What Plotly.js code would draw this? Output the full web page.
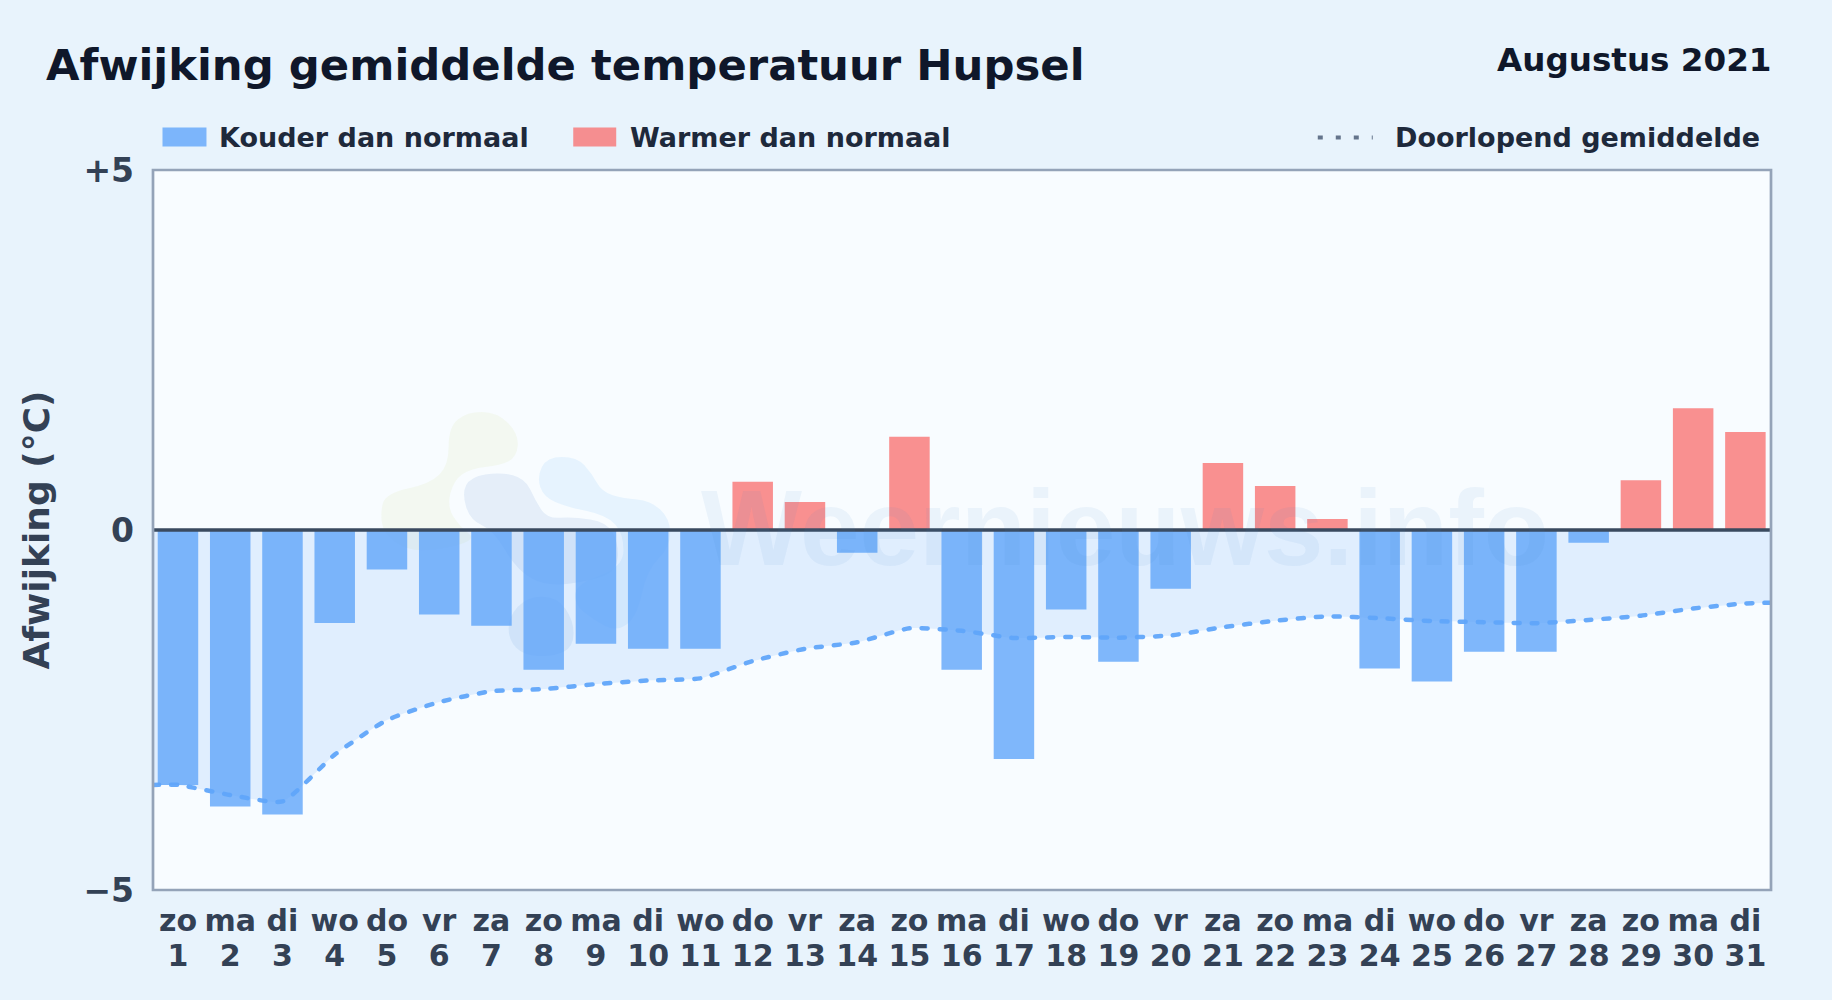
<!DOCTYPE html>
<html>
<head>
<meta charset="utf-8">
<script src="https://cdn.plot.ly/plotly-3.0.1.min.js"></script>
<style>
html,body{margin:0;padding:0;background:#e8f3fc;}
#chart{width:1832px;height:1000px;}
.scatterlayer .js-line{stroke-linecap:round !important;}
</style>
</head>
<body>
<div id="chart"></div>
<script>
const days = [1,2,3,4,5,6,7,8,9,10,11,12,13,14,15,16,17,18,19,20,21,22,23,24,25,26,27,28,29,30,31];
const weekdays = ['zo','ma','di','wo','do','vr','za','zo','ma','di','wo','do','vr','za','zo','ma','di','wo','do','vr','za','zo','ma','di','wo','do','vr','za','zo','ma','di'];
const deviation = [-3.54,-3.84,-3.95,-1.29,-0.55,-1.175,-1.33,-1.94,-1.58,-1.65,-1.65,0.67,0.39,-0.315,1.295,-1.94,-3.18,-1.105,-1.83,-0.815,0.93,0.61,0.153,-1.925,-2.105,-1.69,-1.69,-0.176,0.69,1.69,1.36];
const runningX = [0.52,1,2,3,4,5,6,7,8,9,10,11,12,13,14,15,16,17,18,19,20,21,22,23,24,25,26,27,28,29,30,31,31.5];
const runningMean = [-3.54,-3.54,-3.68,-3.77,-3.12,-2.64,-2.39,-2.24,-2.21,-2.14,-2.09,-2.06,-1.82,-1.65,-1.56,-1.365,-1.40,-1.50,-1.485,-1.495,-1.465,-1.35,-1.26,-1.20,-1.225,-1.265,-1.28,-1.295,-1.25,-1.19,-1.09,-1.02,-1.01];
const titleText = 'Afwijking gemiddelde temperatuur Hupsel';
const periodText = 'Augustus 2021';
const legendCold = 'Kouder dan normaal';
const legendWarm = 'Warmer dan normaal';
const legendMean = 'Doorlopend gemiddelde';
const watermarkText = 'Weernieuws.info';
const yTickVals = [-5,0,5];
const yTickText = ['−5','0','+5'];

const W = 1832, H = 1000;
const L = 152.5, R = 1771.5, T = 169.5, B = 890;
const FONT = '"DejaVu Sans", sans-serif';
const toX = v => (v - L) / (R - L);
const toY = v => (v - B) / (T - B);

function blob(pts, color) {
  const c = pts.map(p => [toX(360 + p[0] / 3), toY(390 + p[1] / 3)]);
  const n = c.length;
  const mid = (a, b) => [(a[0] + b[0]) / 2, (a[1] + b[1]) / 2];
  const f = p => p[0].toFixed(5) + ',' + p[1].toFixed(5);
  let d = 'M' + f(mid(c[n - 1], c[0]));
  for (let i = 0; i < n; i++) d += ' Q' + f(c[i]) + ' ' + f(mid(c[i], c[(i + 1) % n]));
  return {type:'path', xref:'paper', yref:'paper', path:d + ' Z', fillcolor:color, line:{width:0}, layer:'below'};
}
const blobs = [
  blob([[60,370],[75,310],[210,280],[265,225],[265,110],[320,65],[410,65],[475,130],[470,200],[420,225],[330,235],[280,270],[260,350],[300,410],[350,450],[230,480],[140,480],[70,430]], 'rgba(215,232,165,0.16)'),
  blob([[305,310],[330,260],[420,245],[495,265],[525,330],[560,385],[640,380],[740,395],[775,460],[770,540],[700,570],[560,590],[470,540],[400,420],[330,390]], 'rgba(100,150,210,0.13)'),
  blob([[530,260],[560,200],[650,200],[695,250],[725,305],[790,325],[870,330],[930,385],[930,470],[860,540],[830,680],[770,725],[700,690],[640,640],[650,580],[790,530],[790,430],[740,375],[620,350],[550,320]], 'rgba(130,195,250,0.15)'),
  blob([[445,680],[500,620],[590,620],[640,690],[640,770],[580,800],[490,795],[445,750]], 'rgba(100,150,210,0.12)')
];

const cold = deviation.map((v,i)=>v<0?i:-1).filter(i=>i>=0);
const warm = deviation.map((v,i)=>v>=0?i:-1).filter(i=>i>=0);

const traces = [
  {type:'bar', name:legendCold, x:cold.map(i=>days[i]), y:cold.map(i=>deviation[i]), width:0.775,
   marker:{color:'rgba(96,165,250,0.8)', line:{width:0}}, hoverinfo:'skip'},
  {type:'bar', name:legendWarm, x:warm.map(i=>days[i]), y:warm.map(i=>deviation[i]), width:0.775,
   marker:{color:'rgba(248,113,113,0.78)', line:{width:0}}, hoverinfo:'skip'},
  {type:'scatter', mode:'lines', name:legendMean, x:runningX, y:runningMean, fill:'tozeroy',
   fillcolor:'rgba(96,165,250,0.155)',
   line:{color:'rgba(96,165,250,0.95)', width:4.5, dash:'6px,12px', shape:'spline', smoothing:0.5}, hoverinfo:'skip'},
  {type:'scatter', mode:'markers', x:days, y:days.map(()=>0), xaxis:'x2', marker:{opacity:0, size:1}, hoverinfo:'skip', showlegend:false}
];

const legendText = (text, x) => ({text:'<b>'+text+'</b>', x:toX(x), y:toY(137), xref:'paper', yref:'paper', xanchor:'left', yanchor:'middle',
  showarrow:false, font:{family:FONT, size:27, color:'#1e293b'}, borderpad:0, borderwidth:0});

const xBase = {type:'linear', range:[0.522,31.49], tickmode:'array', tickvals:days, ticks:'', tickangle:0,
  showgrid:false, zeroline:false, showline:false, tickfont:{family:FONT, size:30, color:'#334155'}};

const layout = {
  width:W, height:H,
  margin:{l:L, r:W-R, t:T, b:H-B, pad:0},
  paper_bgcolor:'#e8f3fc',
  plot_bgcolor:'#f8fcff',
  barmode:'overlay',
  showlegend:false,
  title:{text:'<b>'+titleText+'</b>', x:46/W, xanchor:'left', xref:'container', y:1-65/H, yref:'container', yanchor:'middle',
    font:{family:FONT, size:43.35, color:'#0f172a'}},
  xaxis:Object.assign({}, xBase, {ticktext:weekdays.map(t=>'<b>'+t+'</b>'), ticklabelstandoff:10}),
  xaxis2:Object.assign({}, xBase, {overlaying:'x', anchor:'y', side:'bottom', ticktext:days.map(d=>'<b>'+d+'</b>'), ticklabelstandoff:45}),
  yaxis:{range:[-5,5], tickmode:'array', tickvals:yTickVals, ticktext:yTickText.map(t=>'<b>'+t+'</b>'), ticks:'', ticklabelstandoff:18,
    tickfont:{family:FONT, size:33, color:'#334155'}, showgrid:false, zeroline:false, showline:false,
    title:{text:'<b>Afwijking (°C)</b>', standoff:22, font:{family:FONT, size:36, color:'#334155'}}},
  shapes: blobs.concat([
    {type:'line', xref:'paper', yref:'y', x0:0, x1:1, y0:0, y1:0, line:{color:'#3a4a5f', width:3.5}, layer:'above'},
    {type:'rect', xref:'paper', yref:'paper', x0:0, x1:1, y0:0, y1:1, line:{color:'#94a3b8', width:2.7}, layer:'above'},
    {type:'rect', xref:'paper', yref:'paper', x0:toX(162), x1:toX(206), y0:toY(127), y1:toY(146), fillcolor:'rgba(96,165,250,0.8)', line:{width:0}},
    {type:'rect', xref:'paper', yref:'paper', x0:toX(573), x1:toX(616), y0:toY(127), y1:toY(146), fillcolor:'rgba(248,113,113,0.78)', line:{width:0}},
    {type:'line', xref:'paper', yref:'paper', x0:toX(1318), x1:toX(1373), y0:toY(137), y1:toY(137), line:{color:'#64748b', width:4, dash:'5px,13px'}}
  ]),
  annotations:[
    {text:'<b>'+periodText+'</b>', x:toX(1774), y:toY(59), xref:'paper', yref:'paper', xanchor:'right', yanchor:'middle', showarrow:false,
     font:{family:FONT, size:32.6, color:'#0f172a'}},
    legendText(legendCold, 219), legendText(legendWarm, 630), legendText(legendMean, 1395),
    {text:'<b>'+watermarkText+'</b>', x:toX(1125), y:toY(528), xref:'paper', yref:'paper', xanchor:'center', yanchor:'middle', showarrow:false,
     font:{family:'"Liberation Sans", sans-serif', size:107, color:'rgba(70,130,200,0.075)'}}
  ]
};

Plotly.newPlot('chart', traces, layout, {displayModeBar:false, responsive:false});
</script>
</body>
</html>
